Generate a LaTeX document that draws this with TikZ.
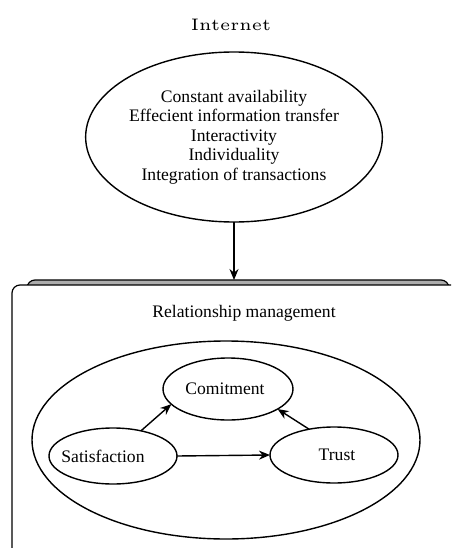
\documentclass[tikz,border=0pt]{standalone}
\usepackage{fontspec}
\newfontfamily\tnr{Liberation Serif}
\newfontfamily\lmfive{lmroman5-regular.otf}
\usetikzlibrary{shapes.geometric,arrows.meta}
\begin{document}
\begin{tikzpicture}[x=1pt,y=-1pt,
  txt/.style={font=\tnr\fontsize{17.6}{19.5}\selectfont},
  oval/.style={ellipse,draw,line width=1.4pt,inner sep=0pt,outer sep=0pt,
    txt,align=center},
  link/.style={line width=1.4pt,-{Stealth[length=11pt,width=9pt]}},
  panelline/.style={line width=1.2pt}]
\useasboundingbox (0,0) rectangle (451,549);
% layered panel holding the relationship model
\begin{scope}
  \clip (0,0) rectangle (451,547);
  \draw[panelline, fill=gray!65, rounded corners=8pt] (27,280) rectangle (449,600);
  \draw[panelline, fill=white, rounded corners=8pt] (12,285) rectangle (470,600);
\end{scope}
% Internet properties
\node[font=\lmfive\fontsize{16.7}{20}\selectfont] (net) at (231,25) {Internet};
\node[oval, minimum width=276pt, minimum height=170pt] (inet) at (234,137)
  {Constant availability\\Effecient information transfer\\Interactivity\\Individuality\\Integration of transactions};
\coordinate (paneltop) at (234,280);
\draw[link] (inet.south) -- (paneltop);
% relationship management model
\node[txt] (rm) at (244,313) {Relationship management};
\node[oval, minimum width=388pt, minimum height=198pt] (rel) at (226,440) {};
\node[oval, minimum width=130pt, minimum height=62pt,
  label={[txt,xshift=-3pt]center:Comitment}] (com) at (228,389) {};
\node[oval, minimum width=128pt, minimum height=56pt,
  label={[txt,xshift=-10pt]center:Satisfaction}] (sat) at (113,456) {};
\node[oval, minimum width=128pt, minimum height=56pt,
  label={[txt,xshift=3pt]center:Trust}] (tru) at (334,455) {};
\draw[link] (sat.42) -- (com.195);
\draw[link] (tru.134) -- (com.338);
\draw[link] (sat.east) -- (tru.west);
\end{tikzpicture}
\end{document}
